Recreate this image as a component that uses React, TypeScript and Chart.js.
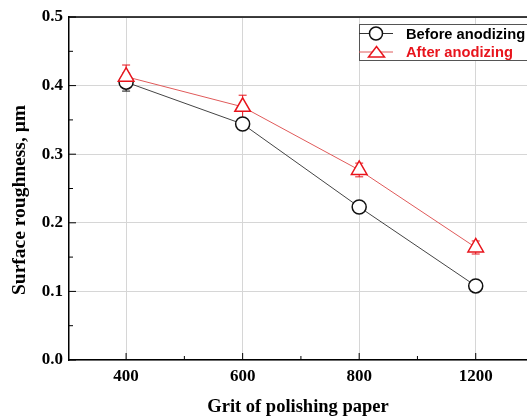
import React, { useEffect, useRef } from 'react';
import { Chart, registerables } from 'chart.js';
Chart.register(...registerables);

const categories = ['400', '600', '800', '1200'];
const beforeValues = [0.405, 0.344, 0.223, 0.108];
const beforeErrors = [0.013, 0.005, 0.005, 0.004];
const afterValues = [0.413, 0.369, 0.277, 0.164];
const afterErrors = [0.017, 0.017, 0.010, 0.0095];
const yTickValues = [0, 0.1, 0.2, 0.3, 0.4, 0.5];
const seriesNames = ['Before anodizing', 'After anodizing'];
const xTitle = 'Grit of polishing paper';
const yTitle = 'Surface roughness, μm';

const SERIF = "'Times New Roman', 'Liberation Serif', serif";
const SANS = "Arial, 'Liberation Sans', sans-serif";
const RED = '#e8141c';
const RED_LINE = '#e05a5a';
const BLACK = '#111111';

const errorBars = {
  id: 'errorBars',
  beforeDatasetsDraw(chart: any) {
    const ctx = chart.ctx;
    const ys = chart.scales.y;
    const errs = [beforeErrors, afterErrors];
    const vals = [beforeValues, afterValues];
    const cols = [BLACK, RED];
    ctx.save();
    for (let d = 0; d < 2; d++) {
      const meta = chart.getDatasetMeta(d);
      ctx.strokeStyle = cols[d];
      ctx.lineWidth = 1;
      meta.data.forEach((pt: any, i: number) => {
        const x = pt.x;
        const y1 = ys.getPixelForValue(vals[d][i] + errs[d][i]);
        const y2 = ys.getPixelForValue(vals[d][i] - errs[d][i]);
        ctx.beginPath();
        ctx.moveTo(x, y1);
        ctx.lineTo(x, y2);
        ctx.moveTo(x - 4, y1);
        ctx.lineTo(x + 4, y1);
        ctx.moveTo(x - 4, y2);
        ctx.lineTo(x + 4, y2);
        ctx.stroke();
      });
    }
    ctx.restore();
  },
};

const frameAndLegend = {
  id: 'frameAndLegend',
  afterDraw(chart: any) {
    const ctx = chart.ctx;
    const { left, right, top, bottom } = chart.chartArea;
    const xs = chart.scales.x;
    const ys = chart.scales.y;
    ctx.save();
    ctx.strokeStyle = '#000';
    ctx.lineWidth = 1.5;
    ctx.beginPath();
    ctx.moveTo(left, top);
    ctx.lineTo(right, top);
    ctx.stroke();
    ctx.lineWidth = 1;
    ctx.beginPath();
    yTickValues.forEach((v) => {
      const y = ys.getPixelForValue(v);
      ctx.moveTo(left, y);
      ctx.lineTo(left + 7, y);
      if (v < 0.5) {
        const ym = ys.getPixelForValue(v + 0.05);
        ctx.moveTo(left, ym);
        ctx.lineTo(left + 4, ym);
      }
    });
    categories.forEach((_, i) => {
      const x = xs.getPixelForValue(i);
      ctx.moveTo(x, bottom);
      ctx.lineTo(x, bottom - 7);
      if (i < categories.length - 1) {
        const xm = xs.getPixelForValue(i + 0.5);
        ctx.moveTo(xm, bottom);
        ctx.lineTo(xm, bottom - 4);
      }
    });
    ctx.stroke();

    ctx.save();
    ctx.translate(20, 200);
    ctx.rotate(-Math.PI / 2);
    ctx.font = `bold 19.5px ${SERIF}`;
    ctx.fillStyle = '#000';
    ctx.textAlign = 'center';
    ctx.textBaseline = 'middle';
    ctx.fillText(yTitle, 0, 0);
    ctx.restore();

    const bx = 359.5, by = 24.5, bw = 200, bh = 36;
    ctx.fillStyle = '#fff';
    ctx.fillRect(bx, by, bw, bh);
    ctx.strokeStyle = '#555';
    ctx.lineWidth = 1;
    ctx.strokeRect(bx, by, bw, bh);
    ctx.strokeStyle = '#333';
    ctx.beginPath();
    ctx.moveTo(359, 33.5);
    ctx.lineTo(393, 33.5);
    ctx.stroke();
    ctx.fillStyle = '#fff';
    ctx.strokeStyle = BLACK;
    ctx.lineWidth = 1.5;
    ctx.beginPath();
    ctx.arc(376, 33.5, 6.5, 0, Math.PI * 2);
    ctx.fill();
    ctx.stroke();
    ctx.strokeStyle = RED_LINE;
    ctx.lineWidth = 1;
    ctx.beginPath();
    ctx.moveTo(359, 52);
    ctx.lineTo(393, 52);
    ctx.stroke();
    ctx.strokeStyle = RED;
    ctx.lineWidth = 1.5;
    ctx.beginPath();
    ctx.moveTo(376.5, 46.5);
    ctx.lineTo(384.5, 57);
    ctx.lineTo(368.5, 57);
    ctx.closePath();
    ctx.fill();
    ctx.stroke();
    ctx.font = `bold 14.7px ${SANS}`;
    ctx.textBaseline = 'alphabetic';
    ctx.textAlign = 'left';
    ctx.fillStyle = '#000';
    ctx.fillText(seriesNames[0], 406, 38.5);
    ctx.fillStyle = RED;
    ctx.fillText(seriesNames[1], 406, 57);
    ctx.restore();
  },
};

export default function App() {
  const ref = useRef<HTMLCanvasElement>(null);
  useEffect(() => {
    if (!ref.current) return;
    const chart = new Chart(ref.current, {
      type: 'line',
      data: {
        datasets: [
          {
            label: seriesNames[0],
            data: beforeValues.map((v, i) => ({ x: i, y: v })),
            borderColor: '#444',
            borderWidth: 1,
            pointStyle: 'circle',
            pointRadius: 7,
            pointBorderWidth: 1.5,
            pointBorderColor: BLACK,
            pointBackgroundColor: '#fff',
            order: 1,
          },
          {
            label: seriesNames[1],
            data: afterValues.map((v, i) => ({ x: i, y: v })),
            borderColor: RED_LINE,
            borderWidth: 1,
            pointStyle: 'triangle',
            pointRadius: 9,
            pointBorderWidth: 1.5,
            pointBorderColor: RED,
            pointBackgroundColor: '#fff',
            order: 0,
          },
        ],
      },
      options: {
        responsive: false,
        animation: false,
        layout: { autoPadding: false, padding: { left: 0, right: 0, top: 17, bottom: 0 } },
        plugins: { legend: { display: false }, tooltip: { enabled: false } },
        scales: {
          x: {
            type: 'linear',
            position: 'bottom',
            min: -0.49,
            max: 3.44,
            afterBuildTicks: (scale: any) => {
              scale.ticks = categories.map((_, i) => ({ value: i }));
            },
            afterFit: (scale: any) => {
              scale.height = 60;
              scale.paddingLeft = 0;
              scale.paddingRight = 0;
            },
            ticks: {
              callback: (v: any) => categories[v] ?? '',
              color: '#000',
              font: { family: SERIF, size: 17, weight: 'bold' },
              padding: 6,
              maxRotation: 0,
            },
            grid: { color: '#d6d6d6', lineWidth: 1, drawTicks: false },
            border: { color: '#000', width: 1.5 },
            title: {
              display: true,
              text: xTitle,
              color: '#000',
              font: { family: SERIF, size: 18.5, weight: 'bold' },
              padding: { top: 0, bottom: 2 },
            },
          },
          y: {
            min: 0,
            max: 0.5,
            afterBuildTicks: (scale: any) => {
              scale.ticks = yTickValues.map((v) => ({ value: v }));
            },
            afterFit: (scale: any) => {
              scale.width = 69;
              scale.paddingTop = 0;
              scale.paddingBottom = 0;
            },
            ticks: {
              callback: (v: any) => Number(v).toFixed(1),
              color: '#000',
              font: { family: SERIF, size: 17, weight: 'bold' },
              padding: 6,
            },
            grid: { color: '#d6d6d6', lineWidth: 1, drawTicks: false },
            border: { color: '#000', width: 1.5 },
            title: { display: false },
          },
        },
      },
      plugins: [errorBars, frameAndLegend],
    } as any);
    return () => chart.destroy();
  }, []);
  return (
    <div style={{ position: 'fixed', left: 0, top: 0, width: 527, height: 420, overflow: 'hidden', background: '#fff' }}>
      <canvas ref={ref} width={527} height={420} style={{ display: 'block' }} />
    </div>
  );
}
